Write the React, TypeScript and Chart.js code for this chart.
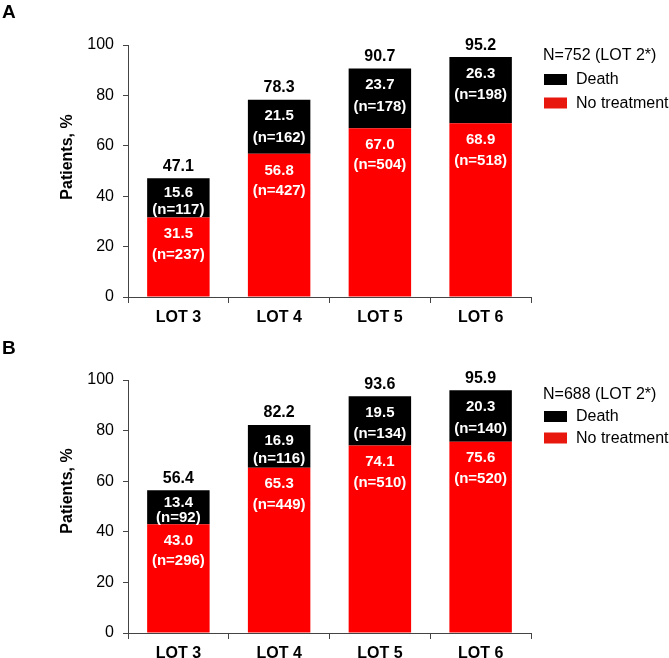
import React, { useEffect, useRef } from "react";
import { Chart, registerables } from "chart.js";

Chart.register(...registerables);

// Lines of therapy shown on the x axis
const categories = ["LOT 3", "LOT 4", "LOT 5", "LOT 6"];

// Panel A: cohort N=752
const noTreatmentA = [31.5, 56.8, 67.0, 68.9];
const deathA = [15.6, 21.5, 23.7, 26.3];
const totalA = [47.1, 78.3, 90.7, 95.2];
const noTreatmentCountA = [237, 427, 504, 518];
const deathCountA = [117, 162, 178, 198];

// Panel B: cohort N=688
const noTreatmentB = [43.0, 65.3, 74.1, 75.6];
const deathB = [13.4, 16.9, 19.5, 20.3];
const totalB = [56.4, 82.2, 93.6, 95.9];
const noTreatmentCountB = [296, 449, 510, 520];
const deathCountB = [92, 116, 134, 140];

const yTicks = [0, 20, 40, 60, 80, 100];

const FONT = "'Liberation Sans', Arial, Helvetica, sans-serif";
const RED = "#FF0000";
const LEGEND_RED = "#E8180E";
const BLACK = "#000000";
const AXIS = "#444444";

type PanelProps = {
  letter: string;
  letterY: number;
  cohort: string;
  noTreatment: number[];
  death: number[];
  totals: number[];
  noTreatmentCounts: number[];
  deathCounts: number[];
  padTop: number;
  xAxisHeight: number;
  legendTop: number;
  legendGap: number;
  yTitleY: number;
};

const W = 669;
const H = 329;

function Panel(p: PanelProps) {
  const ref = useRef<HTMLCanvasElement | null>(null);

  useEffect(() => {
    const canvas = ref.current;
    if (!canvas) return;

    const labelPlugin = {
      id: "segmentLabels",
      afterDatasetsDraw(chart: any) {
        const ctx = chart.ctx as CanvasRenderingContext2D;
        ctx.save();
        ctx.textAlign = "center";
        ctx.textBaseline = "middle";

        const redMeta = chart.getDatasetMeta(0);
        const blackMeta = chart.getDatasetMeta(1);

        redMeta.data.forEach((el: any, i: number) => {
          const { x, y, base } = el.getProps(["x", "y", "base"], true);
          const top = Math.min(y, base);
          ctx.fillStyle = "#FFFFFF";
          ctx.font = `bold 15px ${FONT}`;
          ctx.fillText(p.noTreatment[i].toFixed(1), x, top + 16.5);
          ctx.fillText(`(n=${p.noTreatmentCounts[i]})`, x, top + 37);
        });

        blackMeta.data.forEach((el: any, i: number) => {
          const { x, y, base } = el.getProps(["x", "y", "base"], true);
          const top = Math.min(y, base);
          const h = Math.abs(base - y);
          ctx.fillStyle = "#FFFFFF";
          ctx.font = `bold 15px ${FONT}`;
          ctx.fillText(p.death[i].toFixed(1), x, top + Math.min(16.5, h * 0.36));
          ctx.fillText(`(n=${p.deathCounts[i]})`, x, top + Math.min(38, h * 0.8));

          ctx.fillStyle = BLACK;
          ctx.font = `bold 16px ${FONT}`;
          ctx.fillText(p.totals[i].toFixed(1), x, top - 12);
        });
        ctx.restore();
      },
      afterDraw(chart: any) {
        const ctx = chart.ctx as CanvasRenderingContext2D;
        ctx.save();
        // panel letter
        ctx.fillStyle = BLACK;
        ctx.textAlign = "left";
        ctx.textBaseline = "middle";
        ctx.font = `bold 19px ${FONT}`;
        ctx.fillText(p.letter, 2, p.letterY);

        // legend
        const lx = 543;
        ctx.font = `16px ${FONT}`;
        ctx.fillText(p.cohort, lx, p.legendTop);
        const rows = [
          { label: chart.data.datasets[1].label, color: BLACK },
          { label: chart.data.datasets[0].label, color: LEGEND_RED },
        ];
        rows.forEach((r, k) => {
          const cy = p.legendTop + p.legendGap * (k + 1);
          ctx.fillStyle = r.color;
          ctx.fillRect(lx + 1, cy - 5.5, 23, 11);
          ctx.fillStyle = BLACK;
          ctx.fillText(r.label, lx + 33, cy + 0.5);
        });

        // y axis title, rotated
        ctx.translate(68, p.yTitleY);
        ctx.rotate(-Math.PI / 2);
        ctx.textAlign = "center";
        ctx.font = `bold 16px ${FONT}`;
        ctx.fillStyle = BLACK;
        ctx.fillText("Patients, %", 0, 0);
        ctx.restore();
      },
    };

    const chart = new Chart(canvas, {
      type: "bar",
      data: {
        labels: categories,
        datasets: [
          {
            label: "No treatment",
            data: p.noTreatment,
            backgroundColor: RED,
            barPercentage: 0.62,
            categoryPercentage: 1,
          },
          {
            label: "Death",
            data: p.death,
            backgroundColor: BLACK,
            barPercentage: 0.62,
            categoryPercentage: 1,
          },
        ],
      },
      options: {
        responsive: false,
        animation: false,
        devicePixelRatio: 1,
        layout: { padding: { left: 58, right: W - 531, top: p.padTop, bottom: 0 } },
        plugins: { legend: { display: false }, tooltip: { enabled: false } },
        scales: {
          x: {
            stacked: true,
            grid: { drawOnChartArea: false, drawTicks: true, tickLength: 6, color: AXIS },
            border: { display: true, color: AXIS, width: 1 },
            ticks: {
              color: BLACK,
              font: { family: FONT, size: 16, weight: "bold" },
              padding: 5,
              maxRotation: 0,
            },
            afterFit: (s: any) => {
              s.height = p.xAxisHeight;
            },
          },
          y: {
            stacked: true,
            min: yTicks[0],
            max: yTicks[yTicks.length - 1],
            grid: { drawOnChartArea: false, drawTicks: true, tickLength: 5, color: AXIS },
            border: { display: true, color: AXIS, width: 1 },
            ticks: {
              stepSize: 20,
              color: BLACK,
              font: { family: FONT, size: 16 },
              padding: 9,
            },
            title: { display: false },
            afterFit: (s: any) => {
              s.width = 70;
            },
          },
        },
      },
      plugins: [labelPlugin],
    } as any);

    return () => chart.destroy();
  }, []);

  return (
    <canvas
      ref={ref}
      width={W}
      height={H}
      style={{ display: "block", width: W, height: H }}
    />
  );
}

export default function App() {
  return (
    <div
      style={{
        position: "absolute",
        left: 0,
        top: 0,
        width: W,
        height: 658,
        background: "#FFFFFF",
        overflow: "hidden",
      }}
    >
      <Panel
        letter="A"
        letterY={13}
        cohort="N=752 (LOT 2*)"
        noTreatment={noTreatmentA}
        death={deathA}
        totals={totalA}
        noTreatmentCounts={noTreatmentCountA}
        deathCounts={deathCountA}
        padTop={45}
        xAxisHeight={H - 45 - 252}
        legendTop={56}
        legendGap={23.5}
        yTitleY={157}
      />
      <Panel
        letter="B"
        letterY={20}
        cohort="N=688 (LOT 2*)"
        noTreatment={noTreatmentB}
        death={deathB}
        totals={totalB}
        noTreatmentCounts={noTreatmentCountB}
        deathCounts={deathCountB}
        padTop={51}
        xAxisHeight={H - 51 - 253}
        legendTop={66}
        legendGap={21.5}
        yTitleY={162}
      />
    </div>
  );
}
